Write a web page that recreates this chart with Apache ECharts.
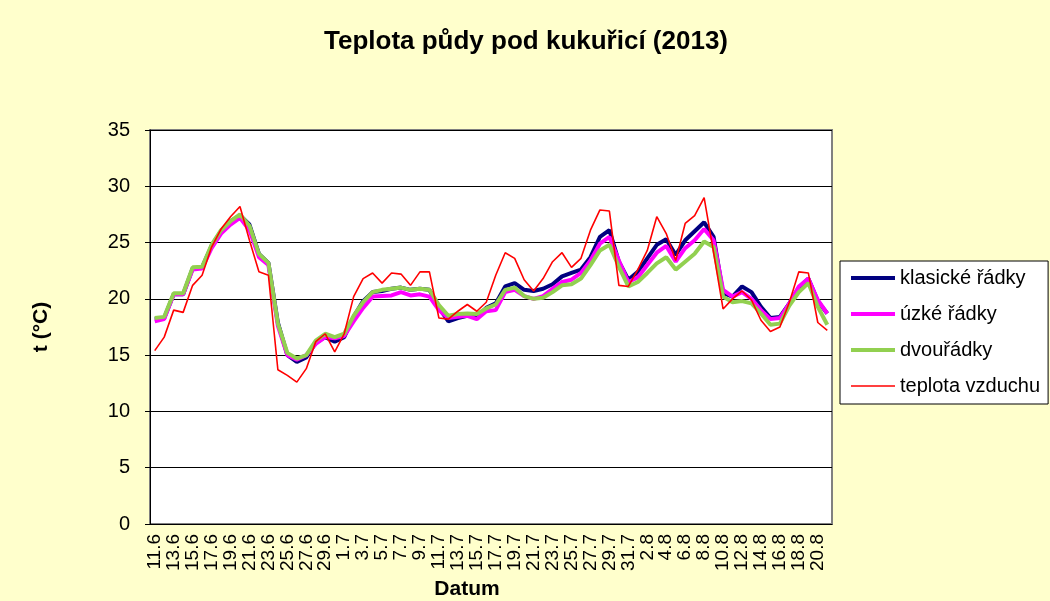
<!DOCTYPE html>
<html><head><meta charset="utf-8">
<script src="https://cdn.jsdelivr.net/npm/echarts@6/dist/echarts.min.js"></script>
<style>html,body{margin:0;padding:0;background:#FFFFCC;}#c{width:1050px;height:601px;}</style>
</head><body><div id="c"></div>
<script>
const categories = ["11.6","12.6","13.6","14.6","15.6","16.6","17.6","18.6","19.6","20.6","21.6","22.6","23.6","24.6","25.6","26.6","27.6","28.6","29.6","30.6",
"1.7","2.7","3.7","4.7","5.7","6.7","7.7","8.7","9.7","10.7","11.7","12.7","13.7","14.7","15.7","16.7","17.7","18.7","19.7","20.7","21.7","22.7","23.7","24.7","25.7","26.7","27.7","28.7","29.7","30.7","31.7",
"1.8","2.8","3.8","4.8","5.8","6.8","7.8","8.8","9.8","10.8","11.8","12.8","13.8","14.8","15.8","16.8","17.8","18.8","19.8","20.8","21.8"];
const klasicke = [18.2,18.3,20.4,20.4,22.7,22.8,24.7,26.0,26.9,27.4,26.6,24.0,23.2,17.9,15.0,14.4,14.8,16.1,16.6,16.2,
16.6,18.4,19.8,20.6,20.7,20.9,21.0,20.8,20.9,20.8,19.2,18.0,18.3,18.5,18.4,19.2,19.6,21.1,21.4,20.8,20.7,20.9,21.3,22.0,22.3,22.6,23.7,25.5,26.1,23.3,21.7,
22.4,23.6,24.8,25.3,23.9,25.2,26.0,26.8,25.5,20.5,20.2,21.1,20.6,19.3,18.3,18.4,19.6,21.0,21.8,19.8,18.7];
const uzke = [18.0,18.2,20.4,20.4,22.6,22.7,24.5,25.8,26.6,27.2,26.1,23.7,23.0,17.6,15.0,14.6,15.0,16.0,16.6,16.5,
16.7,18.0,19.2,20.2,20.25,20.3,20.6,20.3,20.4,20.2,19.0,18.3,18.4,18.5,18.2,18.9,19.0,20.6,20.8,20.25,20.0,20.25,20.9,21.5,21.7,22.3,23.4,24.9,25.5,23.4,21.5,
21.9,23.0,24.1,24.7,23.3,24.5,25.2,26.2,25.2,20.8,20.2,20.6,20.0,19.0,18.2,18.3,19.6,21.1,21.8,19.9,18.7];
const dvouradky = [18.3,18.4,20.5,20.5,22.8,22.85,24.8,26.1,26.9,27.5,26.5,24.0,23.2,17.8,15.2,14.7,15.0,16.3,16.9,16.6,
16.9,18.5,19.7,20.6,20.8,20.9,21.0,20.8,20.9,20.8,19.45,18.5,18.65,18.7,18.65,19.15,19.5,20.8,21.0,20.25,20.0,20.1,20.6,21.2,21.3,21.8,23.0,24.3,24.8,22.85,21.1,
21.5,22.3,23.15,23.7,22.6,23.3,24.0,25.1,24.6,20.2,19.7,19.8,19.6,18.7,17.7,17.8,19.4,20.6,21.4,19.3,17.7];
const vzduch = [15.4,16.6,19.0,18.8,21.2,22.1,24.6,26.2,27.3,28.2,25.2,22.4,22.1,13.7,13.2,12.6,13.8,16.2,16.9,15.3,
16.9,20.2,21.8,22.3,21.4,22.3,22.2,21.2,22.4,22.4,18.3,18.2,18.9,19.5,18.9,19.7,22.1,24.1,23.6,21.7,20.7,21.8,23.3,24.1,22.8,23.6,26.1,27.9,27.8,21.2,21.1,
22.6,24.3,27.3,25.8,23.4,26.7,27.4,29.0,24.1,19.1,20.0,20.7,19.9,18.1,17.1,17.5,19.7,22.4,22.3,17.9,17.2];
const seriesNames = ["klasické řádky","úzké řádky","dvouřádky","teplota vzduchu"];
const yTicks = [0,5,10,15,20,25,30,35];

const font = "Liberation Sans, Arial, sans-serif";
const chart = echarts.init(document.getElementById('c'), null, {renderer:'canvas'});
const colors = ['#000080','#FF00FF','#92D050','#FF0000'];
const widths = [4,4,4,1.6];
function ser(i, data){
  return {name:seriesNames[i], type:'line', data, symbol:'none', animation:false,
    lineStyle:{color:colors[i], width:widths[i]}, itemStyle:{color:colors[i]}};
}
chart.setOption({
  backgroundColor:'#FFFFCC',
  textStyle:{fontFamily:font},
  title:{text:'Teplota půdy pod kukuřicí (2013)', left:521, top:24, textAlign:'center',
    textStyle:{fontFamily:font, fontSize:26, fontWeight:'bold', color:'#000'}},
  grid:{left:150, right:218, top:130, bottom:77, show:true, backgroundColor:'#fff', borderColor:'#808080', borderWidth:2,
    outerBoundsMode:'none', containLabel:false},
  legend:{orient:'vertical', left:840, top:261, backgroundColor:'#fff', borderColor:'#000', borderWidth:1,
    padding:[7,8,8,9], itemGap:16, itemWidth:44, itemHeight:14,
    itemStyle:{opacity:0},
    textStyle:{fontFamily:font, fontSize:20, color:'#000'},
    data:seriesNames.map((n,i)=>({name:n, lineStyle:{width:widths[i], color:colors[i]}}))},
  xAxis:{type:'category', data:categories, boundaryGap:true,
    name:'Datum', nameLocation:'middle', nameGap:53,
    nameTextStyle:{fontFamily:font, fontSize:21, fontWeight:'bold', color:'#000', padding:[0,48,0,0]},
    axisLine:{lineStyle:{color:'#000', width:1}},
    axisTick:{interval:1, length:5, lineStyle:{color:'#000'}},
    axisLabel:{interval:1, rotate:90, fontFamily:font, fontSize:19, color:'#000', margin:10}},
  yAxis:{type:'value', min:0, max:35, interval:5,
    name:'t (°C)', nameLocation:'middle', nameGap:98, nameRotate:90,
    nameTextStyle:{fontFamily:font, fontSize:21, fontWeight:'bold', color:'#000'},
    axisLine:{show:true, lineStyle:{color:'#000', width:1}},
    axisTick:{show:true, length:5, lineStyle:{color:'#000'}},
    splitLine:{lineStyle:{color:'#000', width:1}},
    axisLabel:{fontFamily:font, fontSize:20, color:'#000', margin:20,
      formatter: v => yTicks.includes(v) ? String(v) : ''}},
  series:[ ser(0, klasicke), ser(1, uzke), ser(2, dvouradky), ser(3, vzduch) ]
});
</script></body></html>
